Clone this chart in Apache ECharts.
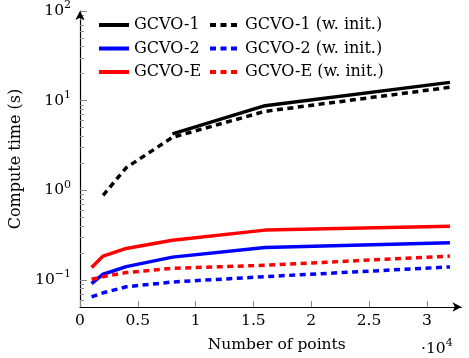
<!DOCTYPE html>
<html>
<head>
<meta charset="utf-8">
<script src="https://cdn.jsdelivr.net/npm/echarts@6/dist/echarts.min.js"></script>
<style>
  html, body { margin: 0; padding: 0; background: #fff; }
  #chart { width: 469px; height: 358px; }
</style>
</head>
<body>
<div id="chart"></div>
<script>
// data (x = number of points, y = compute time in s)
var xAll = [1000, 2000, 4000, 8000, 16000, 32000];
var gcvo1X = [8000, 16000, 32000];
var gcvo1 = [4.26, 8.8, 16.0];
var gcvo1InitX = [2000, 4000, 8000, 16000, 32000];
var gcvo1Init = [0.88, 1.79, 3.9, 7.6, 14.1];
var gcvo2 = [0.091, 0.116, 0.141, 0.18, 0.23, 0.26];
var gcvo2Init = [0.065, 0.072, 0.084, 0.095, 0.109, 0.14];
var gcvoE = [0.138, 0.185, 0.225, 0.278, 0.36, 0.398];
var gcvoEInit = [0.102, 0.109, 0.121, 0.135, 0.146, 0.185];

var xTicks = [0, 5000, 10000, 15000, 20000, 25000, 30000];
var yMajor = [0.1, 1, 10, 100];
var yMinor = [0.06, 0.07, 0.08, 0.09, 0.2, 0.3, 0.4, 0.5, 0.6, 0.7, 0.8, 0.9,
              2, 3, 4, 5, 6, 7, 8, 9, 20, 30, 40, 50, 60, 70, 80, 90];

var FONT = 'DejaVu Serif';

function pairs(xs, ys) {
  return xs.map(function (x, i) { return [x, ys[i]]; });
}

function line(name, xs, ys, color, dashed) {
  return {
    name: name,
    type: 'line',
    data: pairs(xs, ys),
    symbol: 'none',
    showSymbol: false,
    animation: false,
    lineStyle: { color: color, width: 3.5, type: dashed ? [6, 4.5] : 'solid' },
    itemStyle: { color: color }
  };
}

var chart = echarts.init(document.getElementById('chart'));

var legendText = { fontFamily: FONT, fontSize: 16, color: '#000', lineHeight: 16 };

// the legend draws a circle for symbol:'none' lines, hide it and keep a thick line
function legend(names, left) {
  return {
    data: names,
    orient: 'vertical', left: left, top: 17, padding: 0,
    itemWidth: 30, itemHeight: 14, itemGap: 7.5,
    itemStyle: { opacity: 0 },
    lineStyle: { width: 4 },
    textStyle: legendText
  };
}

var option = {
  animation: false,
  grid: { left: 80, right: 7.5, top: 9.5, bottom: 51, containLabel: false },
  legend: [
    legend(['GCVO-1', 'GCVO-2', 'GCVO-E'], 97),
    legend(['GCVO-1 (w. init.)', 'GCVO-2 (w. init.)', 'GCVO-E (w. init.)'], 208)
  ],
  xAxis: {
    type: 'value',
    min: 0, max: 33000,
    name: 'Number of points',
    nameLocation: 'middle',
    nameGap: 30,
    nameTextStyle: { fontFamily: FONT, fontSize: 15.5, color: '#000', padding: [0, 0, 0, 12] },
    axisLine: { lineStyle: { color: '#000', width: 1.2 }, symbol: ['none', 'arrow'], symbolSize: [7, 9] },
    axisTick: { inside: true, length: 6, lineStyle: { color: '#888' }, customValues: xTicks },
    axisLabel: {
      customValues: xTicks,
      margin: 6,
      fontFamily: FONT, fontSize: 15.5, color: '#000',
      formatter: function (v) { return v === 0 ? '0' : String(v / 10000); }
    },
    splitLine: { show: false }
  },
  yAxis: [
    {
      type: 'log',
      logBase: 10,
      min: 0.05, max: 100,
      name: 'Compute time (s)',
      nameLocation: 'middle',
      nameGap: 56,
      nameTextStyle: { fontFamily: FONT, fontSize: 16, color: '#000' },
      axisLine: { lineStyle: { color: '#000', width: 1.2 }, symbol: ['none', 'arrow'], symbolSize: [7, 9] },
      axisTick: { inside: true, length: 7, lineStyle: { color: '#888' }, customValues: yMajor },
      axisLabel: {
        customValues: yMajor,
        margin: 9,
        fontFamily: FONT, color: '#000',
        formatter: function (v) {
          var e = Math.round(Math.log10(v));
          return '{b|10}{s|' + (e < 0 ? '\u2212' + (-e) : e) + '}';
        },
        rich: {
          b: { fontFamily: FONT, fontSize: 15.5, color: '#000' },
          s: { fontFamily: FONT, fontSize: 11, color: '#000', padding: [0, 0, 11, 0] }
        }
      },
      splitLine: { show: false }
    },
    {
      type: 'log',
      logBase: 10,
      min: 0.05, max: 100,
      position: 'left',
      axisLine: { show: false },
      axisTick: { inside: true, length: 4, lineStyle: { color: '#999' }, customValues: yMinor },
      axisLabel: { show: false },
      splitLine: { show: false }
    }
  ],
  graphic: [
    {
      type: 'text',
      left: 421, top: 338,
      style: {
        text: '{b|\u00b710}{s|4}',
        rich: {
          b: { fontFamily: FONT, fontSize: 15.5, fill: '#000' },
          s: { fontFamily: FONT, fontSize: 11, fill: '#000', padding: [0, 0, 11, 0] }
        }
      }
    }
  ],
  series: [
    line('GCVO-1', gcvo1X, gcvo1, '#000000', false),
    line('GCVO-2', xAll, gcvo2, '#0000ff', false),
    line('GCVO-E', xAll, gcvoE, '#ff0000', false),
    line('GCVO-1 (w. init.)', gcvo1InitX, gcvo1Init, '#000000', true),
    line('GCVO-2 (w. init.)', xAll, gcvo2Init, '#0000ff', true),
    line('GCVO-E (w. init.)', xAll, gcvoEInit, '#ff0000', true)
  ]
};

chart.setOption(option);
</script>
</body>
</html>
